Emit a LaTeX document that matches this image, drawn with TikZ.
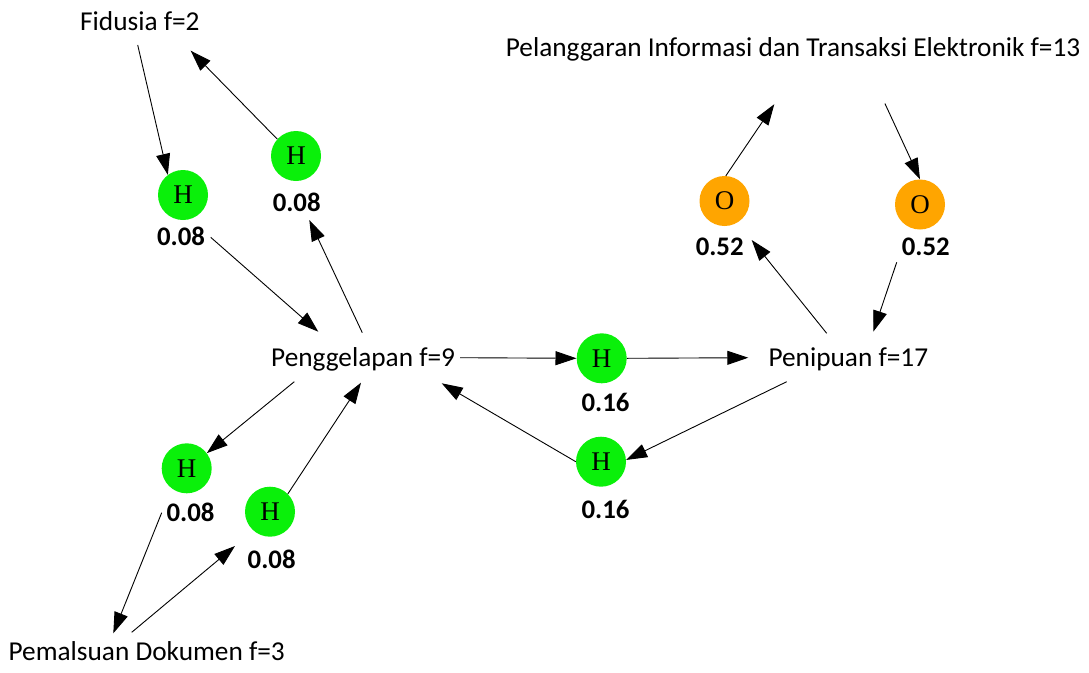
\documentclass[tikz,border=0pt]{standalone}
\usepackage{fontspec}
\usetikzlibrary{arrows.meta}
\newfontfamily\lblfont{Carlito}
\newfontfamily\circfont{Liberation Serif}
\definecolor{hgreen}{RGB}{10,240,10}
\definecolor{oorange}{RGB}{255,165,0}
\tikzset{
  txt/.style={inner sep=0pt, font=\lblfont\fontsize{27.3}{30}\selectfont},
  num/.style={inner sep=0pt, font=\lblfont\bfseries\fontsize{26.8}{30}\selectfont},
  hnode/.style={circle, fill=hgreen, minimum size=50pt, inner sep=0pt, font=\circfont\fontsize{27}{27}\selectfont},
  onode/.style={circle, fill=oorange, minimum size=50pt, inner sep=0pt, font=\circfont\fontsize{27}{27}\selectfont},
  arr/.style={line width=0.9pt, -{Triangle[length=21pt,width=14pt]}}
}
\begin{document}
\begin{tikzpicture}[x=1pt,y=-1pt]
\useasboundingbox (0,0) rectangle (1089,672);
% text nodes
\node[txt, anchor=base west] (fid) at (80,30) {Fidusia f=2};
\node[txt, anchor=base west] (pel) at (505.7,56) {Pelanggaran Informasi dan Transaksi Elektronik f=13};
\node[txt, anchor=base west] (peng) at (271,366.7) {Penggelapan f=9};
\node[txt, anchor=base west] (pen) at (768.3,366.7) {Penipuan f=17};
\node[txt, anchor=base east] (pem) at (285,660) {Pemalsuan Dokumen f=3};
% circles
\node[hnode] (h1) at (183,195) {H};
\node[hnode] (h2) at (296,156) {H};
\node[hnode] (h3) at (186.7,468.3) {H};
\node[hnode] (h4) at (270,511.7) {H};
\node[hnode] (h5) at (601.7,358.3) {H};
\node[hnode] (h6) at (601,461.7) {H};
\node[onode] (o1) at (724.5,201) {O};
\node[onode] (o2) at (920,204.5) {O};
% value labels
\node[num, anchor=base] (l1) at (181,245) {0.08};
\node[num, anchor=base] (l2) at (296.7,211) {0.08};
\node[num, anchor=base] (l3) at (190.5,521) {0.08};
\node[num, anchor=base] (l4) at (271.7,568) {0.08};
\node[num, anchor=base] (l5) at (605.5,411) {0.16};
\node[num, anchor=base] (l6) at (605.5,518) {0.16};
\node[num, anchor=base] (l7) at (719.7,255) {0.52};
\node[num, anchor=base] (l8) at (925.8,255.5) {0.52};
% connector end points
\coordinate (fidA) at (137.7,45);
\coordinate (fidB) at (190.7,50.7);
\coordinate (l1out) at (210.7,237.3);
\coordinate (pengA) at (318.3,331.7);
\coordinate (pengB) at (362.3,332.7);
\coordinate (l2in) at (309.3,220);
\coordinate (pengC) at (294.3,381.7);
\coordinate (pengD) at (361,382.7);
\coordinate (l3out) at (161.7,512.7);
\coordinate (pemA) at (113.3,633.3);
\coordinate (pemB) at (131.7,632.3);
\coordinate (l4in) at (235,546);
\coordinate (pengE) at (460,357.7);
\coordinate (penA) at (748.3,357.7);
\coordinate (penB) at (786.7,381.7);
\coordinate (pengF) at (441.7,383.3);
\coordinate (penC) at (826.7,333.3);
\coordinate (l7in) at (751.7,240);
\coordinate (pelA) at (774.3,104.2);
\coordinate (pelB) at (884.9,103.5);
\coordinate (l8out) at (896.7,262.3);
\coordinate (penD) at (873.3,331.7);
% connectors
\draw[arr] (fidA) -- (h1.127);
\draw[arr] (h2.138) -- (fidB);
\draw[arr] (l1out) -- (pengA);
\draw[arr] (pengB) -- (l2in);
\draw[arr] (pengC) -- (h3.37);
\draw[arr] (h4.45) -- (pengD);
\draw[arr] (l3out) -- (pemA);
\draw[arr] (pemB) -- (l4in);
\draw[arr] (pengE) -- (h5.west);
\draw[arr] (h5.east) -- (penA);
\draw[arr] (penB) -- (h6.4);
\draw[arr] (h6.west) -- (pengF);
\draw[arr] (penC) -- (l7in);
\draw[arr] (o1.87) -- (pelA);
\draw[arr] (pelB) -- (o2.north);
\draw[arr] (l8out) -- (penD);
\end{tikzpicture}
\end{document}
